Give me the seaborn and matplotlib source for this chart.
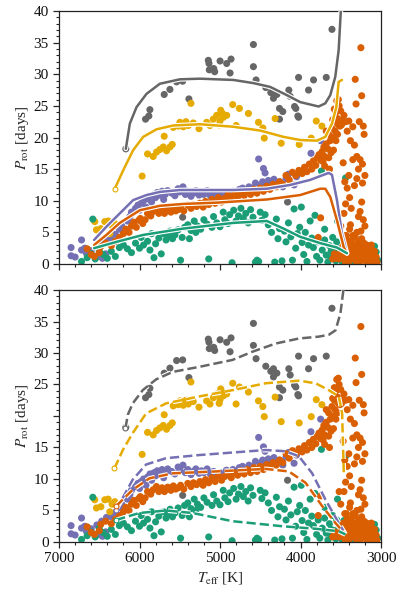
import numpy as np
import pandas as pd
import matplotlib
matplotlib.use("Agg")
import matplotlib.pyplot as plt
import matplotlib.patheffects as pe
from matplotlib.ticker import MultipleLocator
import seaborn as sns

sns.set_style("ticks")
plt.rcParams["font.family"] = ["Liberation Serif", "DejaVu Serif"]
plt.rcParams["mathtext.fontset"] = "stix"

# colours (Dark2)
C_GRAY = "#666666"
C_GOLD = "#E6AB02"
C_PURPLE = "#7570B3"
C_ORANGE = "#D95F02"
C_TEAL = "#1B9E77"

# ---- scatter data (Teff [K], Prot [days]) ----
purple_teff = [6850, 6850, 6800, 6720, 6720, 6680, 6660, 6600, 6530, 6500, 6540, 6470, 6410, 6460, 6420,
               6350, 6300, 6300, 6250, 6220, 6200, 6150, 6120, 6100, 6080, 6050, 6020, 6000, 5980, 5950,
               5920, 5900, 5870, 5850, 5820, 5800, 5780, 5750, 5720, 5700, 5680,
               5650, 5600, 5560, 5520, 5500, 5460, 5430, 5400, 5360, 5330, 5300, 5260, 5230, 5200, 5160,
               5120, 5080, 5040, 5000, 4960, 4920, 4880, 4840, 4800, 4760, 4720, 4680, 4640, 4600, 4560,
               4520, 4500, 4470, 4430, 4400, 4360, 4330, 4300, 4260, 4220, 4180, 4150, 4080, 4050, 3980,
               3870, 3750, 4440, 4460]
purple_prot = [2.6, 1.3, 1.1, 3.8, 2.2, 2.5, 1.7, 2.1, 2.7, 1.2, 1.2, 3.3, 3.9, 0.9, 1.6,
               4.0, 4.7, 3.6, 5.5, 6.0, 5.0, 6.8, 7.5, 8.2, 6.5, 8.8, 9.3, 8.5, 9.6, 10.0,
               9.0, 10.3, 10.8, 9.8, 11.0, 10.5, 11.3, 10.9, 11.5, 10.2, 11.0,
               11.6, 11.2, 10.8, 11.9, 11.4, 12.2, 11.0, 11.5, 10.7, 11.2, 11.6, 10.9, 11.3, 11.0, 11.6,
               10.8, 11.2, 10.5, 11.0, 10.6, 11.4, 10.9, 11.5, 11.2, 11.8, 12.0, 11.6, 12.2, 12.0, 12.8,
               16.6, 12.5, 13.0, 12.4, 13.2, 12.8, 13.4, 12.6, 13.0, 12.2, 13.5, 14.2, 12.5, 13.8, 14.5,
               17.5, 19.5, 14.4, 15.1]

gray_teff = [6170, 5925, 5871, 5884, 5693, 5622, 5539, 5464, 5386, 5464, 5145, 5137, 5133, 5066, 5078,
             4999, 4917, 4863, 4875, 4585, 4585, 4552, 4431, 4369, 4336, 4294, 4336, 4261, 4220, 4261,
             4145, 4128, 4074, 4058, 4033, 4024, 4024, 3900, 3838, 3680, 3609, 4161]
gray_prot = [18.2, 22.9, 24.4, 23.4, 26.8, 27.6, 28.8, 28.9, 26.1, 7.4, 32.2, 31.7, 30.7, 30.4, 30.9,
             32.1, 31.7, 32.4, 30.2, 34.7, 31.2, 29.1, 27.9, 27.1, 26.2, 26.8, 27.5, 24.6, 24.1, 22.9,
             27.5, 26.5, 24.9, 24.6, 23.4, 29.5, 23.2, 27.5, 29.1, 29.5, 37.1, 9.8]

gold_teff = [5967, 5900, 5830, 5788, 5747, 5705, 5664, 5622, 5593, 5693, 5581, 5518, 5456, 5394, 5498,
             5423, 5361, 5332, 5261, 5166, 5124, 5083, 5041, 4991, 4958, 4917, 4842, 4759, 4800, 4647,
             4522, 4468, 4315, 4240, 4016, 3867, 3804, 3734, 5000, 4970, 5010, 4450,
             6556, 6535, 6431, 6390, 6369, 6307, 6480, 6340]
gold_prot = [13.9, 17.4, 17.0, 17.7, 18.1, 18.5, 17.9, 18.5, 18.9, 20.2, 21.6, 21.8, 21.7, 21.9, 22.4,
             22.5, 25.4, 22.3, 21.4, 22.4, 21.9, 22.9, 23.5, 24.3, 23.2, 23.5, 25.2, 24.6, 21.9, 23.8,
             22.4, 21.5, 23.0, 19.1, 18.9, 19.9, 22.6, 21.8, 22.6, 23.8, 22.0, 19.9,
             6.7, 5.4, 6.7, 6.8, 4.8, 6.4, 5.6, 6.0]

teal_teff = [6580, 6720, 6650, 6600, 6550, 6500, 6450, 6400, 6350, 6300, 6250, 6200, 6150, 6100, 6050,
             6000, 5980, 5950, 5900, 5870, 5850, 5820, 5800, 5760, 5730, 5700, 5670, 5640, 5620, 5590,
             5560, 5520, 5490, 5470, 5440, 5400, 5380, 5360, 5320, 5300, 5280, 5240, 5200, 5160, 5140,
             5100, 5080, 5040, 5000, 4960, 4940, 4900, 4880, 4850, 4830, 4800, 4770, 4740, 4710, 4680,
             4650, 4620, 4590, 4560, 4540, 4520, 4500, 4480, 4440, 4400, 4360, 4320, 4300, 4280, 4260,
             4230, 4200, 4180, 4150, 4120, 4100, 4080, 4060, 4040, 4010, 3990, 3980, 3960, 3940, 3920,
             3900, 3880, 3860, 3840, 3820, 3800, 3780, 3760, 3740, 3730, 3700, 3680, 3660, 3640, 3620,
             3600, 3580, 3560, 3540, 3520, 3500, 3480, 3460, 3440, 3420, 3400, 3300, 3200, 3150, 3100,
             3060, 3040, 3350, 3250, 3080, 3550, 3450, 3620, 3700]
teal_prot = [7.1, 0.4, 1.0, 1.6, 0.8, 2.2, 1.5, 0.9, 2.0, 1.2, 2.6, 3.0, 2.4, 1.8, 3.3,
             2.5, 4.2, 3.0, 3.6, 2.2, 4.8, 1.0, 3.2, 4.1, 1.6, 4.8, 3.8, 4.5, 5.2, 4.0,
             4.6, 5.4, 0.6, 4.2, 5.8, 6.2, 4.0, 5.3, 6.8, 5.0, 6.0, 5.5, 7.0, 6.3, 0.8,
             5.8, 7.5, 6.5, 5.9, 8.2, 7.0, 6.4, 7.8, 0.2, 8.5, 6.8, 7.6, 8.8, 7.2, 8.0,
             6.5, 8.6, 7.4, 0.3, 0.6, 0.4, 8.2, 6.9, 7.8, 6.2, 5.0, 0.3, 7.1, 4.0, 5.6,
             0.5, 5.2, 3.5, 6.5, 4.3, 0.6, 8.7, 2.5, 4.8, 5.8, 9.0, 3.4, 1.5, 5.0, 0.4,
             3.0, 6.8, 4.1, 2.6, 7.7, 1.2, 3.5, 0.6, 14.7, 2.2, 3.8, 1.4, 0.3, 2.9, 1.0,
             4.2, 1.8, 0.5, 6.8, 2.4, 1.2, 0.3, 3.4, 13.6, 1.5, 2.5, 1.0, 2.8, 1.5, 2.6,
             1.9, 0.6, 0.2, 2.5, 2.8, 3.5, 2.0, 2.0, 5.5]

orange_teff = [6650, 6600, 6560, 6500, 6480, 6420, 6350, 6300,
               6250, 6200, 6170, 6130, 6100, 6070, 6040, 6010, 5990, 5960, 5930, 5900, 5860, 5830, 5790,
               5760, 5720, 5690, 5650, 5610, 5580, 5550, 5520, 5490, 5450, 5400, 5360, 5330, 5290, 5250,
               5210, 5180, 5140, 5100, 5060, 5020, 4980, 4940, 4900, 4860, 4820, 4780, 4740, 4700, 4660,
               4620, 4580, 4540, 4500, 4460, 4420, 4380, 4340, 4300, 4260, 4220, 4180, 4140, 4100, 4060,
               4020, 3980, 3950, 3920, 3890, 3860, 3840, 3810, 3790, 3770, 3750, 3730, 3710, 3700, 3680,
               3660, 3650, 3630, 3610, 3600, 3580, 3570, 3560, 3550, 3540, 3530, 3520, 3500, 3480, 3460,
               3440, 3420, 3750, 3780,
               3700, 3650, 3620, 3600, 3680, 3560, 3590, 3540, 3510, 3640, 3720, 3580, 3530, 3490,
               3400, 3380, 3350, 3330, 3300, 3310, 3320, 3270, 3260, 3250, 3240, 3230, 3220, 3210, 3200,
               3280, 3350, 3400, 3420, 3440, 3460, 3390, 3370, 3330, 3300, 3280, 3260, 3240, 3230, 3220,
               3200, 3250, 3300, 3350, 3380, 3420, 3450, 3500, 3520, 3450, 3470,
               3480, 3460, 3450, 3440, 3420, 3410, 3400, 3390, 3380, 3370, 3360, 3350, 3340, 3330, 3320,
               3310, 3300, 3290, 3280, 3270, 3260, 3250, 3240, 3230, 3220, 3210, 3200, 3190, 3180, 3170,
               3160, 3150, 3140, 3130, 3120, 3110, 3100, 3090, 3080, 3070, 3060, 3050, 3520, 3540, 3560,
               3580, 3600, 3500, 3470, 3430, 3390, 3350, 3310, 3270, 3230, 3190, 3150, 3110, 3300, 3250,
               3200, 3340, 3420, 3380, 3160, 3120, 3080, 3440]
orange_prot = [2.4, 1.5, 1.2, 1.8, 2.8, 3.3, 2.9, 3.6,
               4.2, 4.8, 5.5, 5.0, 6.0, 6.6, 5.8, 6.9, 7.2, 6.4, 7.0, 8.0, 7.6, 8.3, 8.8,
               8.0, 8.6, 8.0, 8.7, 8.2, 8.9, 8.4, 8.6, 9.0, 8.4, 9.3, 8.8, 9.4, 9.1, 9.6,
               9.0, 9.9, 9.4, 10.2, 9.6, 10.5, 9.8, 10.4, 10.9, 10.2, 11.0, 10.6, 11.3, 10.8, 11.5,
               11.0, 11.8, 11.2, 12.0, 11.5, 12.3, 11.8, 12.6, 12.2, 13.0, 12.6, 14.0, 13.3, 14.5, 14.0,
               14.8, 14.3, 15.3, 14.6, 15.8, 15.0, 16.3, 15.6, 16.8, 17.3, 16.4, 17.8, 18.5, 17.0, 19.0,
               18.2, 20.5, 19.5, 21.5, 20.0, 22.5, 21.0, 24.0, 25.8, 23.0, 22.0, 25.0, 24.2, 22.7, 23.5,
               22.5, 21.0, 7.3, 4.2,
               15.5, 16.8, 17.6, 22.8, 21.0, 19.5, 18.0, 20.5, 21.8, 15.0, 16.2, 24.5, 26.0, 22.0,
               22.6, 19.5, 21.7, 18.8, 17.0, 25.3, 29.2, 22.5, 16.5, 34.2, 26.6, 15.8, 21.8, 20.5, 14.0,
               15.0, 16.5, 14.0, 12.0, 9.5, 8.0, 10.5, 8.8, 12.4, 13.5, 7.5, 8.3, 9.8, 12.8, 7.0,
               6.0, 5.2, 5.0, 4.5, 6.2, 3.8, 4.5, 6.0, 8.0, 13.0, 16.0,
               1.0, 1.8, 0.6, 2.6, 1.2, 3.2, 0.4, 2.0, 1.0, 3.6, 2.4, 0.8, 1.6, 3.0, 4.2,
               0.5, 2.2, 1.2, 3.4, 0.7, 2.8, 1.8, 4.0, 0.9, 2.5, 1.4, 3.2, 0.5, 2.0, 1.1,
               2.9, 0.6, 1.7, 2.4, 0.9, 1.5, 0.4, 1.2, 2.0, 0.7, 1.1, 0.3, 0.8, 1.4, 0.9,
               1.6, 0.8, 2.2, 3.0, 4.5, 5.5, 3.0, 2.8, 1.9, 3.5, 2.6, 1.3, 2.2, 0.3, 0.5,
               1.0, 1.0, 2.0, 2.8, 0.2, 3.0, 0.8, 0.2]

# ---- model tracks ----
gray_solid_t = [6170, 6120, 6037, 5913, 5747, 5498, 5249, 4834, 4585, 4377, 4170, 4004, 3775, 3692, 3630, 3568, 3526, 3497]
gray_solid_p = [18.2, 22.2, 24.8, 26.9, 28.5, 29.2, 29.3, 29.1, 28.6, 28.0, 26.7, 25.6, 24.9, 25.4, 26.7, 29.6, 33.8, 40.5]
gold_solid_t = [6307, 6203, 6079, 5954, 5788, 5581, 5249, 4834, 4502, 4211, 4004, 3796, 3692, 3609, 3555, 3526, 3485]
gold_solid_p = [11.9, 14.8, 18.0, 20.1, 21.3, 21.9, 22.1, 21.7, 21.1, 20.1, 19.6, 19.5, 20.1, 22.2, 24.8, 28.8, 29.1]
purple_solid_t = [6564, 6411, 6245, 6079, 5913, 5747, 5498, 4834, 4419, 4128, 3879, 3651, 3609, 3547, 3485, 3423]
purple_solid_p = [3.8, 5.9, 8.0, 10.1, 10.9, 11.4, 11.7, 11.7, 11.9, 12.5, 13.3, 14.4, 14.1, 10.1, 4.8, 1.7]
orange_solid_t = [6564, 6411, 6245, 5996, 5747, 5456, 5041, 4419, 4004, 3755, 3692, 3630, 3547, 3464, 3423]
orange_solid_p = [3.0, 4.6, 6.5, 8.5, 9.2, 9.5, 9.7, 10.2, 10.9, 11.9, 11.9, 10.6, 6.9, 2.7, 1.7]
teal_solid_t = [6564, 6286, 5954, 5456, 4834, 4419, 4211, 4004, 3755, 3547, 3423]
teal_solid_p = [2.5, 3.5, 4.6, 5.6, 6.5, 6.8, 5.6, 4.3, 3.3, 2.6, 1.7]

gray_dash_t = [6174, 6145, 6084, 5960, 5795, 5588, 5258, 4845, 4598, 4309, 4020, 3772, 3648, 3565, 3504, 3462]
gray_dash_p = [18.1, 20.2, 22.0, 24.1, 25.8, 27.0, 27.8, 28.9, 30.2, 31.5, 32.3, 32.6, 32.9, 33.6, 36.3, 40.5]
gold_dash_t = [6311, 6207, 6084, 5918, 5671, 5258, 4845, 4432, 4020, 3813, 3648, 3524, 3483, 3462]
gold_dash_p = [11.7, 14.6, 17.3, 20.4, 22.0, 23.1, 24.1, 25.2, 25.6, 25.2, 24.1, 23.1, 20.4, 10.9]
purple_dash_t = [6290, 6084, 5918, 5671, 5258, 4845, 4432, 4185, 4020, 3855, 3689, 3524, 3441]
purple_dash_p = [5.1, 9.9, 12.3, 13.3, 13.8, 14.2, 14.6, 14.4, 13.6, 10.9, 6.7, 3.0, 1.2]
orange_dash_t = [6290, 6084, 5877, 5588, 5052, 4432, 4145, 3937, 3731, 3565, 3441]
orange_dash_p = [5.7, 8.3, 10.1, 10.9, 11.2, 11.6, 11.2, 9.4, 5.7, 3.0, 1.2]
teal_dash_t = [6290, 6001, 5671, 5340, 4845, 4226, 3813, 3524, 3441]
teal_dash_p = [3.5, 4.6, 5.0, 4.6, 3.3, 2.5, 2.1, 1.7, 1.2]

yticks = [0, 5, 10, 15, 20, 25, 30, 35, 40]
top_ylabels = ["0", "5", "10", "15", "20", "25", "30", "35", "40"]
bottom_ylabels = ["0", "5", "10", "15", "", "25", "30", "35", "40"]
xticks = [7000, 6000, 5000, 4000, 3000]

groups = [("purple", purple_teff, purple_prot), ("gray", gray_teff, gray_prot),
          ("gold", gold_teff, gold_prot), ("teal", teal_teff, teal_prot),
          ("orange", orange_teff, orange_prot)]
stars = pd.concat([pd.DataFrame({"teff": t, "prot": p, "grp": g}) for g, t, p in groups],
                  ignore_index=True)
palette = {"purple": C_PURPLE, "gray": C_GRAY, "gold": C_GOLD, "teal": C_TEAL, "orange": C_ORANGE}

fig = plt.figure(figsize=(4.0, 5.95), dpi=100)
ax1 = fig.add_axes([0.1475, 0.5563, 0.805, 0.4252])
ax2 = fig.add_axes([0.1475, 0.0891, 0.805, 0.4235])

outline = [pe.Stroke(linewidth=3.4, foreground="white"), pe.Normal()]

tracks_top = [(gray_solid_t, gray_solid_p, C_GRAY), (gold_solid_t, gold_solid_p, C_GOLD),
              (purple_solid_t, purple_solid_p, C_PURPLE), (orange_solid_t, orange_solid_p, C_ORANGE),
              (teal_solid_t, teal_solid_p, C_TEAL)]
tracks_bot = [(gray_dash_t, gray_dash_p, C_GRAY), (gold_dash_t, gold_dash_p, C_GOLD),
              (purple_dash_t, purple_dash_p, C_PURPLE), (orange_dash_t, orange_dash_p, C_ORANGE),
              (teal_dash_t, teal_dash_p, C_TEAL)]

for ax, tracks, ls, labels in [(ax1, tracks_top, "-", top_ylabels), (ax2, tracks_bot, "--", bottom_ylabels)]:
    sns.scatterplot(data=stars, x="teff", y="prot", hue="grp", palette=palette,
                    s=26, linewidth=0, legend=False, ax=ax, zorder=2)
    for t, p, c in tracks:
        sns.lineplot(x=t, y=p, color=c, lw=1.8, ls=ls, sort=False, estimator=None,
                     ax=ax, zorder=3, path_effects=outline)
        if ls == "-" and c != C_GOLD:
            continue
        ax.plot(t[0], p[0], "o", ms=3.5, mfc="white", mec=c, mew=0.8, zorder=4)
    ax.set_xlim(7000, 3000)
    ax.set_ylim(0, 40)
    ax.set_xticks(xticks)
    ax.xaxis.set_minor_locator(MultipleLocator(200))
    ax.set_yticks(yticks)
    ax.set_yticklabels(labels)
    ax.yaxis.set_minor_locator(MultipleLocator(1))
    ax.tick_params(which="major", length=4, width=0.9, labelsize=11, direction="out",
                   labelcolor="#111111")
    ax.tick_params(which="minor", length=2, width=0.8, direction="out")
    for sp in ax.spines.values():
        sp.set_linewidth(0.9)
        sp.set_color("#222222")
    ax.set_ylabel(r"$P_{\rm rot}$ [days]", fontsize=11, labelpad=2)
    ax.set_xlabel("")

ax1.set_xticklabels([])
ax2.set_xticklabels([str(v) for v in xticks])
ax2.set_xlabel(r"$T_{\rm eff}$ [K]", fontsize=11, labelpad=3)

fig.savefig("out.png", dpi=100)
